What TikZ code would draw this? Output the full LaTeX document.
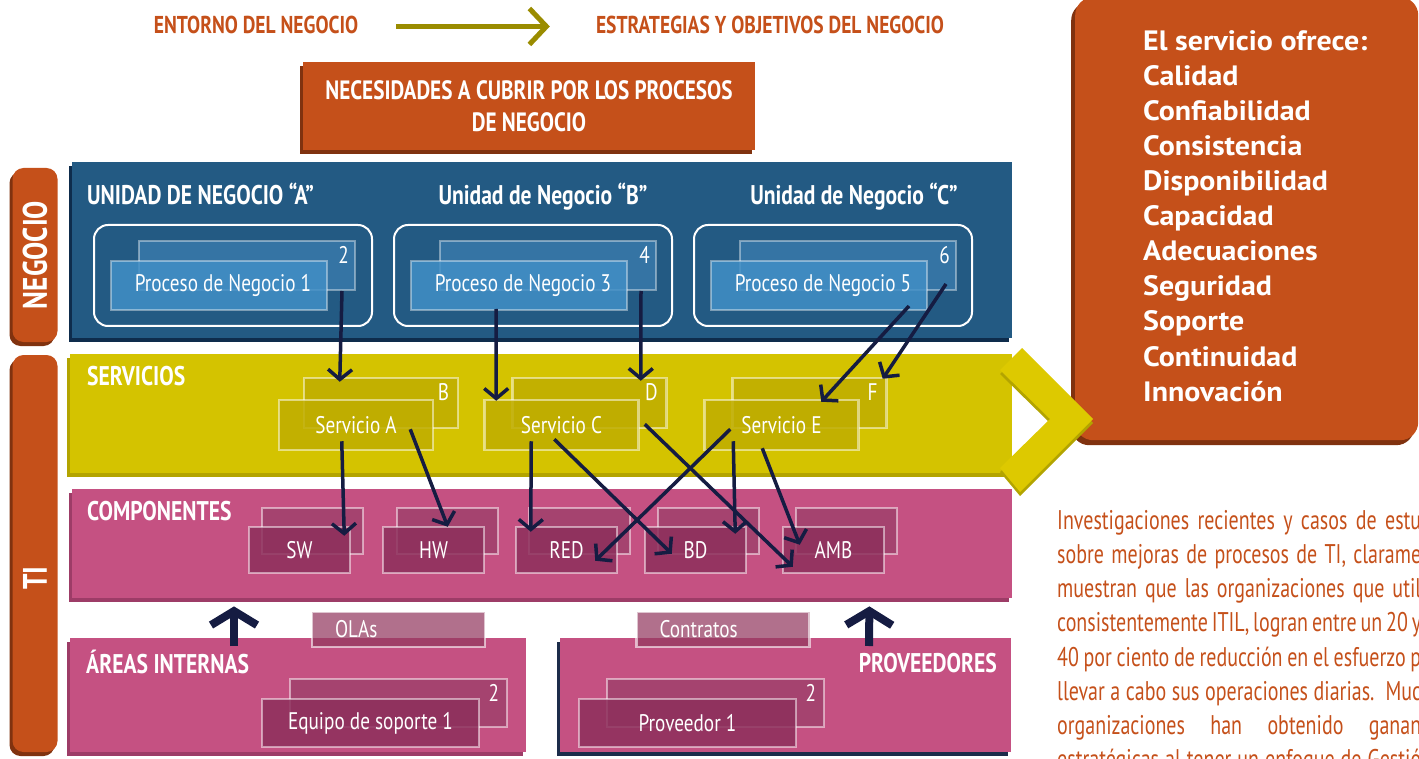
\documentclass[tikz,border=0pt]{standalone}
\usepackage{fontspec}
\setmainfont{PT Sans}
\newfontfamily\condfont[FakeStretch=0.8]{PT Sans}
\newfontfamily\narrowfont[FakeStretch=0.74]{PT Sans}
\newfontfamily\widefont[FakeStretch=1.07]{PT Sans}
\usetikzlibrary{arrows.meta,shadows}

\definecolor{orng}{HTML}{C5501A}
\definecolor{orngdark}{HTML}{80320F}
\definecolor{olivec}{HTML}{9A8C00}
\definecolor{negblue}{HTML}{235A83}
\definecolor{negdark}{HTML}{0E2C4C}
\definecolor{procB}{HTML}{3574A4}
\definecolor{procF}{HTML}{418FC6}
\definecolor{servY}{HTML}{D4C300}
\definecolor{servdark}{HTML}{B3A400}
\definecolor{servbox}{HTML}{C2B000}
\definecolor{servF}{HTML}{BFAD00}
\definecolor{chevY}{HTML}{DDC900}
\definecolor{pinkc}{HTML}{C55182}
\definecolor{pinkdark}{HTML}{9D3C67}
\definecolor{compB}{HTML}{A5436F}
\definecolor{compF}{HTML}{8D305C}
\definecolor{tagc}{HTML}{93395F}
\definecolor{navy}{HTML}{151C42}
\definecolor{provdark}{HTML}{1C2C4A}

\tikzset{
  sh/.style={general shadow={fill=#1,shadow xshift=-3pt,shadow yshift=-4pt}},
  toptxt/.style={text=orng,font=\condfont\bfseries\fontsize{24.4}{29}\selectfont,inner sep=0,anchor=base},
  ttl/.style={text=white,font=\condfont\bfseries\fontsize{27}{32}\selectfont,inner sep=0},
  lbl/.style={text=white,font=\condfont\fontsize{24}{28}\selectfont},
  num/.style={lbl,inner sep=0,anchor=base east},
  band/.style={inner sep=0,anchor=north west},
  orbox/.style={fill=orng,sh=orngdark,minimum width=452pt,minimum height=88pt,align=center,
    text=white,font=\condfont\bfseries\fontsize{26.5}{32}\selectfont},
  tab/.style={fill=orng,sh=orngdark,rounded corners=11pt,minimum width=45pt,inner sep=0},
  tabtxt/.style={rotate=90,text=white,inner sep=0,font=\condfont\bfseries\fontsize{34}{36}\selectfont},
  unitbox/.style={draw=white,line width=2pt,rounded corners=14pt,minimum width=278pt,minimum height=101pt},
  procback/.style={fill=procB,draw=white,draw opacity=.4,line width=2pt,minimum width=216pt,minimum height=49pt,inner sep=0},
  procfront/.style={procback,fill=procF,fill opacity=.85,text opacity=1,lbl},
  servback/.style={fill=servbox,draw=white,draw opacity=.5,line width=2.5pt,minimum width=154pt,minimum height=50pt,inner sep=0},
  servfront/.style={servback,fill=servF,fill opacity=.85,text opacity=1,lbl},
  compback/.style={fill=compB,draw=white,draw opacity=.5,line width=2.5pt,minimum width=101pt,minimum height=46pt,inner sep=0},
  compfront/.style={compback,fill=compF,fill opacity=.85,text opacity=1,lbl},
  bback/.style={compback,minimum width=217pt,minimum height=48pt},
  bfront/.style={compfront,minimum width=217pt,minimum height=48pt},
  tag/.style={fill=tagc,fill opacity=.72,text opacity=1,draw=white,draw opacity=.6,line width=2.5pt,
    minimum width=173pt,minimum height=35pt,text width=127pt,inner xsep=23pt,inner ysep=0,align=left,lbl},
  rbox/.style={fill=orng,general shadow={fill=orngdark,shadow xshift=-4pt,shadow yshift=-5pt},
    rounded corners=18pt,minimum width=343pt,minimum height=443pt,inner sep=0,anchor=north west},
  rtxt/.style={anchor=north west,align=left,inner sep=0,text=white,font=\widefont\bfseries\fontsize{28}{35.1}\selectfont},
  ptxt/.style={anchor=north west,align=left,inner sep=0,text=orng,font=\narrowfont\fontsize{27}{34.2}\selectfont},
  conn/.style={draw=navy,line width=3.5pt,-{Straight Barb[length=10pt,width=24pt]}},
  uparr/.style={draw=navy,line width=8pt,-{Straight Barb[length=14pt,width=46pt]}},
  oarrow/.style={draw=olivec,line width=5pt,-{Straight Barb[length=17pt,width=36pt]}}
}

\begin{document}
\begin{tikzpicture}[x=1pt,y=-1pt]
\useasboundingbox (0,0) rectangle (1419,759);
\clip (0,0) rectangle (1419,759);

% encabezado
\node[toptxt] (entorno) at (256,34) {ENTORNO DEL NEGOCIO};
\node[toptxt] (estrategia) at (770,34) {ESTRATEGIAS Y OBJETIVOS DEL NEGOCIO};
\draw[oarrow] ([xshift=38pt,yshift=-1pt]entorno.east) -- ([xshift=-46pt,yshift=-1pt]estrategia.west);
\node[orbox] (necesidades) at (529,106) {NECESIDADES A CUBRIR POR LOS PROCESOS\\DE NEGOCIO};

% pestanas laterales
\node[tab,minimum height=174pt] (tabneg) at (35,255) {};
\node[tabtxt] (tabnegtxt) at (tabneg.center) {NEGOCIO};
\node[tab,minimum height=397pt] (tabti) at (35,553.5) {};
\node[tabtxt] (tabtitxt) at (35,578) {TI};

% negocio
\node[band,fill=negblue,sh=negdark,minimum width=940pt,minimum height=176pt] (negocio) at (72,162) {};
\node[ttl,anchor=base west] (unA) at (87,205) {UNIDAD DE NEGOCIO “A”};
\node[ttl,anchor=base] (unB) at (543,205) {Unidad de Negocio “B”};
\node[ttl,anchor=base] (unC) at (854,205) {Unidad de Negocio “C”};

\node[unitbox] (uA) at (233,275.5) {};
\node[procback] (p1b) at (247,265.5) {};
\node[procfront] (p1f) at (219,285.5) {\hspace{8pt}Proceso de Negocio 1};
\node[num] (p1n) at ([xshift=-7pt,yshift=-24pt]p1b.north east) {2};

\node[unitbox] (uB) at (533,275.5) {};
\node[procback] (p2b) at (548,265.5) {};
\node[procfront] (p2f) at (519,285.5) {\hspace{8pt}Proceso de Negocio 3};
\node[num] (p2n) at ([xshift=-7pt,yshift=-24pt]p2b.north east) {4};

\node[unitbox] (uC) at (833,275.5) {};
\node[procback] (p3b) at (848,265.5) {};
\node[procfront] (p3f) at (819,285.5) {\hspace{8pt}Proceso de Negocio 5};
\node[num] (p3n) at ([xshift=-7pt,yshift=-24pt]p3b.north east) {6};

% cuadro de la derecha
\node[rbox] (ofrece) at (1075,-3) {};
\node[rtxt] (ofrecetxt) at (1143,30) {El servicio ofrece:\\Calidad\\Confiabilidad\\Consistencia\\Disponibilidad\\Capacidad\\Adecuaciones\\Seguridad\\Soporte\\Continuidad\\Innovación};

% servicios
\node[band,fill=servY,sh=servdark,minimum width=942pt,minimum height=119pt] (servicios) at (70,354) {};
\fill[servdark] (1000,374) -- (1022,352) -- (1093,423) -- (1020,496) -- (1000,472) -- (1050,423) -- cycle;
\fill[chevY] (1000,370) -- (1022,348) -- (1093,419) -- (1020,492) -- (1000,468) -- (1050,419) -- cycle;
\node[ttl,anchor=base west] (servtxt) at (87,385) {SERVICIOS};

\node[servback] (s1b) at (381,403) {};
\node[servfront] (s1f) at (356,425) {Servicio A};
\node[num] (s1n) at ([xshift=-10pt,yshift=-24pt]s1b.north east) {B};
\node[servback] (s2b) at (589.5,403) {};
\node[servfront] (s2f) at (561.5,425) {Servicio C};
\node[num] (s2n) at ([xshift=-10pt,yshift=-24pt]s2b.north east) {D};
\node[servback] (s3b) at (809.5,403) {};
\node[servfront] (s3f) at (781.5,425) {Servicio E};
\node[num] (s3n) at ([xshift=-10pt,yshift=-24pt]s3b.north east) {F};

% componentes
\node[band,fill=pinkc,sh=pinkdark,minimum width=940pt,minimum height=109pt] (componentes) at (72,489) {};
\node[ttl,anchor=base west] (comptxt) at (87,520) {COMPONENTES};
\node[compback] (c1b) at (312.5,531) {};
\node[compfront] (c1f) at (299.5,550) {SW};
\node[compback] (c2b) at (447.5,531) {};
\node[compfront] (c2f) at (433.5,550) {HW};
\node[compback] (c3b) at (579.5,531) {};
\node[compfront] (c3f) at (566.5,550) {RED};
\node[compback] (c4b) at (708.5,531) {};
\node[compfront] (c4f) at (695.5,550) {BD};
\node[compback] (c5b) at (846.5,531) {};
\node[compfront] (c5f) at (833.5,550) {AMB};

% areas internas y proveedores
\node[band,fill=pinkc,sh=pinkdark,minimum width=456pt,minimum height=114pt] (areas) at (70,638) {};
\node[ttl,anchor=base west] (areastxt) at (86,673) {ÁREAS INTERNAS};
\node[bback] (a1b) at (398.5,703) {};
\node[bfront] (a1f) at (370.5,723) {Equipo de soporte 1};
\node[num] (a1n) at ([xshift=-9pt,yshift=-24pt]a1b.north east) {2};
\node[tag] (olas) at (398.5,629.5) {OLAs};

\node[band,fill=pinkc,sh=provdark,minimum width=451pt,minimum height=114pt] (prov) at (560,638) {};
\node[ttl,anchor=base east] (provtxt) at (997,672) {PROVEEDORES};
\node[bback] (v1b) at (715.5,703) {};
\node[bfront] (v1f) at (687.5,723) {Proveedor 1};
\node[num] (v1n) at ([xshift=-9pt,yshift=-24pt]v1b.north east) {2};
\node[tag] (contratos) at (723,629.5) {Contratos};

\draw[uparr] ([xshift=164pt,yshift=-8pt]areas.north west) -- ([xshift=162pt,yshift=-8pt]componentes.south west);
\draw[uparr] ([xshift=309pt,yshift=-8pt]prov.north west) -- ([xshift=-143pt,yshift=-8pt]componentes.south east);

% texto
\node[ptxt] (investig) at (1057,510) {\makebox[364pt][s]{Investigaciones recientes y casos de estu}\\
\makebox[364pt][s]{sobre mejoras de procesos de TI, clarame}\\
\makebox[364pt][s]{muestran que las organizaciones que util}\\
\makebox[364pt][s]{consistentemente ITIL, logran entre un 20 y}\\
\makebox[364pt][s]{40 por ciento de reducción en el esfuerzo p}\\
\makebox[364pt][s]{llevar a cabo sus operaciones diarias.\ \ Muc}\\
\makebox[364pt][s]{organizaciones han obtenido ganan}\\
\makebox[364pt][s]{estratégicas al tener un enfoque de Gestió}};

% conexiones
\draw[conn] ([xshift=-14pt]p1b.south east) -- ([xshift=37pt,yshift=-5pt]s1b.north west);
\draw[conn] ([xshift=86pt,yshift=2pt]p2f.south west) -- ([xshift=13pt,yshift=-2pt]s2f.north west);
\draw[conn] ([xshift=-16pt]p2b.south east) -- ([xshift=-27pt,yshift=-4pt]s2b.north east);
\draw[conn] ([xshift=-19pt,yshift=5pt]p3f.south east) -- ([xshift=118pt,yshift=-3pt]s3f.north west);
\draw[conn] ([xshift=-11pt,yshift=7pt]p3b.south east) -- ([xshift=-5pt,yshift=-2pt]s3b.north east);
\draw[conn] ([xshift=64pt,yshift=10pt]s1f.south west) -- ([xshift=-20pt,yshift=-29pt]c1b.north east);
\draw[conn] ([xshift=-24pt,yshift=22pt]s1f.south east) -- ([xshift=66pt,yshift=-1pt]c2f.north west);
\draw[conn] ([xshift=48pt,yshift=10pt]s2f.south west) -- ([xshift=16pt,yshift=-6pt]c3f.north west);
\draw[conn] ([xshift=71pt,yshift=12pt]s2f.south west) -- ([xshift=28pt,yshift=-28pt]c4f.north west);
\draw[conn] ([xshift=-23pt,yshift=5pt]s2b.south east) -- ([xshift=11pt,yshift=-41pt]c5f.north west);
\draw[conn] ([xshift=27pt,yshift=22pt]s3f.south west) -- ([xshift=-23pt,yshift=-35pt]c3f.north east);
\draw[conn] ([xshift=30pt,yshift=10pt]s3f.south west) -- ([xshift=-12pt,yshift=-8pt]c4f.north east);
\draw[conn] ([xshift=59pt,yshift=3pt]s3f.south west) -- ([xshift=18pt,yshift=-19pt]c5f.north west);
\end{tikzpicture}
\end{document}
